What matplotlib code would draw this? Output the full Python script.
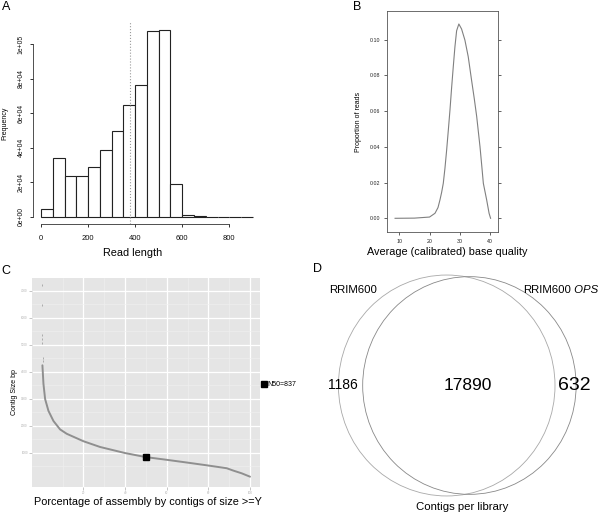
import numpy as np
import matplotlib
matplotlib.use("Agg")
import matplotlib.pyplot as plt
from matplotlib.patches import Ellipse
from matplotlib.lines import Line2D

plt.rcParams['font.family'] = ['Liberation Sans', 'DejaVu Sans']

W, H = 600, 514

# A: read length histogram
bin_edges = np.arange(0, 950, 50)
bin_counts = [4400, 33800, 23500, 23300, 29000, 38800, 49600, 64800, 76000,
              107300, 108300, 19200, 960, 150, 80, 40, 20, 10]
median_len = 379
hist_yticks = [0, 20000, 40000, 60000, 80000, 100000]
hist_ylabels = ["0e+00", "2e+04", "4e+04", "6e+04", "8e+04", "1e+05"]
hist_xticks = [0, 200, 400, 600, 800]

# B: base quality density
qual = [8.6, 15, 20, 21.8, 22.8, 23.45, 24.0, 24.55, 25.1, 25.65, 26.2, 26.76, 27.3,
        27.86, 28.4, 28.96, 29.7, 30.6, 31.7, 32.8, 33.9, 34.8, 35.6, 36.7,
        37.3, 37.8, 38.9, 39.7, 40.2]
prop = [0, 0.0001, 0.0007, 0.0028, 0.006, 0.0103, 0.0145, 0.0196, 0.028, 0.038, 0.049,
        0.0606, 0.073, 0.085, 0.096, 0.105, 0.1088, 0.106, 0.0998, 0.0905, 0.0774,
        0.067, 0.057, 0.040, 0.029, 0.0196, 0.0103, 0.0028, 0]
qual_ticks = [10, 20, 30, 40]
prop_ticks = [0.00, 0.02, 0.04, 0.06, 0.08, 0.10]

# C: contig size curve
pct = [0.3, 0.8, 1.6, 3.2, 5.6, 8.8, 12, 20, 28, 40, 50, 60, 69.6, 80, 88.8, 92, 96, 100]
contig_bp = [4237, 3550, 2987, 2550, 2175, 1862, 1700, 1425, 1212, 987, 837, 737,
             637, 525, 425, 337, 237, 112]
out_pct = [0.1, 0.2, 0.3, 0.3, 0.3, 0.4, 0.5]
out_bp = [7210, 6470, 5350, 5200, 5050, 4500, 4400]
n50_pct, n50_bp = 50, 837

# D: Venn counts
only_rrim = 1186
shared = 17890
only_ops = 632


def px_axes(fig, x0, y0, x1, y1):
    return fig.add_axes([x0 / W, 1 - y1 / H, (x1 - x0) / W, (y1 - y0) / H])


def px_text(fig, x, y, s, **kw):
    kw.setdefault('ha', 'center')
    kw.setdefault('va', 'center')
    return fig.text(x / W, 1 - y / H, s, **kw)


fig = plt.figure(figsize=(6, 5.14), dpi=100)

# ---- panel A
axA = px_axes(fig, 33, 22, 261, 223.5)
axA.bar(bin_edges[:-1], bin_counts, width=50, align='edge', facecolor='white',
        edgecolor='#222222', linewidth=0.8)
axA.axvline(median_len, color='#9a9a9a', ls=':', lw=0.8)
axA.set_xlim(-34, 934.6)
axA.set_ylim(-3937, 112739)
for s in ['top', 'right']:
    axA.spines[s].set_visible(False)
axA.spines['left'].set_bounds(0, 100000)
axA.spines['bottom'].set_bounds(0, 800)
for s in ['left', 'bottom']:
    axA.spines[s].set_linewidth(0.6)
    axA.spines[s].set_color('#333333')
axA.set_yticks(hist_yticks)
axA.set_yticklabels(hist_ylabels, rotation=90, va='center', fontsize=4.9)
axA.set_xticks(hist_xticks)
axA.set_xticklabels([str(v) for v in hist_xticks], fontsize=5.5)
axA.tick_params(axis='y', length=2.2, width=0.6, pad=4, colors='#111111')
axA.tick_params(axis='x', length=2.4, width=0.6, pad=6, colors='#111111')
px_text(fig, 5, 123, "Frequency", rotation=90, fontsize=5)
px_text(fig, 133, 253, "Read length", fontsize=7.8)
px_text(fig, 6, 7.5, "A", fontsize=9)

# ---- panel B
axB = px_axes(fig, 387, 11, 498, 232)
axB.plot(qual, prop, color='#808080', lw=0.8)
axB.set_xlim(5.93, 42.65)
axB.set_ylim(-0.00767, 0.11607)
for s in axB.spines.values():
    s.set_linewidth(0.6)
    s.set_color('#555555')
axB.set_xticks(qual_ticks)
axB.set_xticklabels([str(v) for v in qual_ticks], fontsize=3.8)
axB.set_yticks(prop_ticks)
axB.set_yticklabels(["%.2f" % v for v in prop_ticks], fontsize=3.8)
axB.tick_params(axis='both', length=2.2, width=0.5, pad=2.5, colors='#222222',
                right=True)
px_text(fig, 358, 122, "Proportion of reads", rotation=90, fontsize=5)
px_text(fig, 447, 252, "Average (calibrated) base quality", fontsize=7.8)
px_text(fig, 357, 7, "B", fontsize=9)

# ---- panel C
axC = px_axes(fig, 32, 278, 260, 487)
axC.set_facecolor('#e5e5e5')
axC.set_xlim(-4.7, 104.8)
axC.set_ylim(-270, 7470)
axC.set_xticks([20, 40, 60, 80, 100])
axC.set_xticks([10, 30, 50, 70, 90], minor=True)
axC.set_yticks([1000, 2000, 3000, 4000, 5000, 6000, 7000])
axC.set_yticks([500, 1500, 2500, 3500, 4500, 5500, 6500], minor=True)
axC.grid(True, which='major', color='white', lw=0.9)
axC.grid(True, which='minor', color='#f0f0f0', lw=0.4)
axC.set_axisbelow(True)
for s in axC.spines.values():
    s.set_visible(False)
axC.tick_params(which='major', length=2, width=0.4, colors='#999999',
                labelsize=2.2, pad=1, labelcolor='#b0b0b0')
axC.tick_params(which='minor', length=0)
axC.plot(pct, contig_bp, color='#8f8f8f', lw=1.4, solid_capstyle='round')
axC.plot(out_pct, out_bp, ls='', marker='|', ms=2, mew=0.6, color='#a0a0a0')
axC.plot([n50_pct], [n50_bp], ls='', marker='s', ms=4.2, color='black')
axC.legend(handles=[Line2D([], [], ls='', marker='s', ms=4, color='black')],
           labels=["N50=837"], loc='center left', bbox_to_anchor=(262 / W, 1 - 385 / H),
           bbox_transform=fig.transFigure, frameon=False, fontsize=5,
           handlelength=0.6, handletextpad=0.2, borderpad=0, borderaxespad=0)
px_text(fig, 14, 392, "Contig Size bp", rotation=90, fontsize=5)
px_text(fig, 148, 502, "Porcentage of assembly by contigs of size >=Y", fontsize=7.8)
px_text(fig, 6, 271, "C", fontsize=9)

# ---- panel D
axD = px_axes(fig, 300, 260, 600, 514)
axD.set_xlim(300, 600)
axD.set_ylim(514, 260)
axD.axis('off')
k = 108.3 / np.sqrt(only_rrim + shared)
r_left = k * np.sqrt(only_rrim + shared)
r_right = k * np.sqrt(only_ops + shared)
axD.add_patch(Ellipse((446.7, 385.5), 2 * r_left, 2 * r_left * 1.02, fill=False,
                      edgecolor='#a8a8a8', lw=0.6))
axD.add_patch(Ellipse((469.4, 385.5), 2 * r_right, 2 * r_right * 1.02, fill=False,
                      edgecolor='#888888', lw=0.6))
axD.text(343, 385, str(only_rrim), ha='center', va='center', fontsize=10)
axD.text(467.5, 385, str(shared), ha='center', va='center', fontsize=12.5)
axD.text(574, 385, str(only_ops), ha='center', va='center', fontsize=14)
axD.text(353, 290, "RRIM600", ha='center', va='center', fontsize=8.2)
t1 = axD.text(523, 290, "RRIM600", ha='left', va='center', fontsize=8.2)
axD.annotate(" OPS", xy=(1, 0), xycoords=t1, ha='left', va='bottom',
             fontsize=8.2, style='italic')
axD.text(461.7, 506.7, "Contigs per library", ha='center', va='center', fontsize=8.2)
px_text(fig, 317, 269.5, "D", fontsize=9)

fig.savefig("out.png", dpi=100)
